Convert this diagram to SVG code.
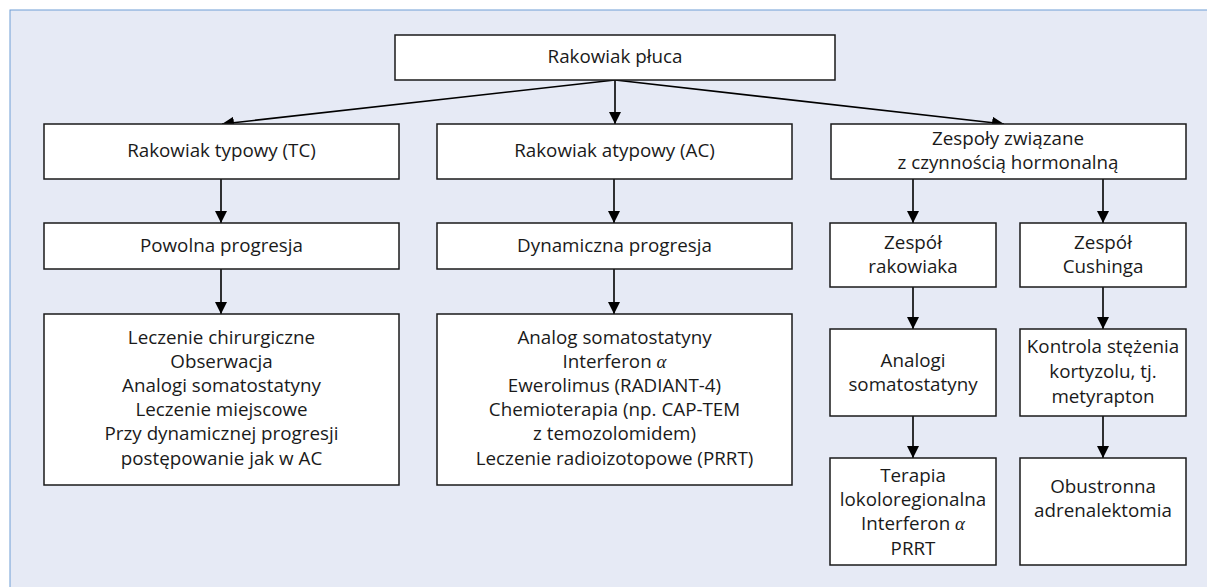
<svg xmlns="http://www.w3.org/2000/svg" width="1207" height="587" viewBox="0 0 1207 587">
<style>
.box{fill:#fff;stroke:#1a1a1a;stroke-width:1.5}
.t{font-family:"Open Sans","Noto Sans",sans-serif;font-size:18.8px;fill:#1a1a1a;text-anchor:middle}
.a{font-family:"Liberation Serif",serif;font-style:italic}
.c{stroke:#000;stroke-width:1.6;fill:none;marker-end:url(#ah)}
</style>
<defs>
<marker id="ah" markerWidth="12" markerHeight="12" viewBox="0 0 12 12" refX="12" refY="6" orient="auto" markerUnits="userSpaceOnUse">
<path d="M0,0 L12,6 L0,12 Z" fill="#000"/>
</marker>
</defs>
<rect x="0" y="0" width="1207" height="587" fill="#fff"/>
<rect x="10" y="10" width="1210" height="600" fill="#E6EAF5" stroke="#6F9DD6" stroke-width="1"/>
<g id="connectors">
<line class="c" x1="615" y1="80" x2="222" y2="124"/>
<line class="c" x1="615" y1="80" x2="615" y2="124"/>
<line class="c" x1="615" y1="80" x2="1004" y2="124"/>
<line class="c" x1="221" y1="179" x2="221" y2="223"/>
<line class="c" x1="614" y1="179" x2="614" y2="223"/>
<line class="c" x1="913" y1="179" x2="913" y2="223"/>
<line class="c" x1="1103" y1="179" x2="1103" y2="223"/>
<line class="c" x1="221" y1="269" x2="221" y2="314"/>
<line class="c" x1="614" y1="269" x2="614" y2="314"/>
<line class="c" x1="913" y1="287" x2="913" y2="329"/>
<line class="c" x1="1103" y1="287" x2="1103" y2="329"/>
<line class="c" x1="913" y1="416" x2="913" y2="458"/>
<line class="c" x1="1103" y1="416" x2="1103" y2="458"/>
</g>
<g id="n-root"><rect class="box" x="395" y="35" width="440" height="45"/><text class="t" x="615" y="63">Rakowiak płuca</text></g>
<g id="n-tc"><rect class="box" x="44" y="124" width="355" height="55"/><text class="t" x="221.5" y="157">Rakowiak typowy (TC)</text></g>
<g id="n-ac"><rect class="box" x="437" y="124" width="355" height="55"/><text class="t" x="614.5" y="157">Rakowiak atypowy (AC)</text></g>
<g id="n-hormon"><rect class="box" x="831" y="124" width="355" height="55"/><text class="t"><tspan x="1008" y="145">Zespoły związane</tspan><tspan x="1008" y="169">z czynnością hormonalną</tspan></text></g>
<g id="n-powolna"><rect class="box" x="44" y="223" width="355" height="46"/><text class="t" x="221.5" y="252">Powolna progresja</text></g>
<g id="n-dynamiczna"><rect class="box" x="437" y="223" width="355" height="46"/><text class="t" x="614.5" y="252">Dynamiczna progresja</text></g>
<g id="n-zrak"><rect class="box" x="830" y="223" width="166" height="64"/><text class="t"><tspan x="913" y="249">Zespół</tspan><tspan x="913" y="273">rakowiaka</tspan></text></g>
<g id="n-zcush"><rect class="box" x="1020" y="223" width="166" height="64"/><text class="t"><tspan x="1103" y="249">Zespół</tspan><tspan x="1103" y="273">Cushinga</tspan></text></g>
<g id="n-tclist"><rect class="box" x="44" y="314" width="355" height="171"/>
<text class="t"><tspan x="221.5" y="344">Leczenie chirurgiczne</tspan><tspan x="221.5" y="368">Obserwacja</tspan><tspan x="221.5" y="392">Analogi somatostatyny</tspan><tspan x="221.5" y="416">Leczenie miejscowe</tspan><tspan x="221.5" y="440">Przy dynamicznej progresji</tspan><tspan x="221.5" y="465">postępowanie jak w AC</tspan></text></g>
<g id="n-aclist"><rect class="box" x="437" y="314" width="355" height="171"/>
<text class="t"><tspan x="614.5" y="344">Analog somatostatyny</tspan><tspan x="614.5" y="368">Interferon <tspan class="a">α</tspan></tspan><tspan x="614.5" y="392">Ewerolimus (RADIANT-4)</tspan><tspan x="614.5" y="416">Chemioterapia (np. CAP-TEM</tspan><tspan x="614.5" y="440">z temozolomidem)</tspan><tspan x="614.5" y="465">Leczenie radioizotopowe (PRRT)</tspan></text></g>
<g id="n-analogi"><rect class="box" x="830" y="329" width="166" height="87"/><text class="t"><tspan x="913" y="367">Analogi</tspan><tspan x="913" y="391">somatostatyny</tspan></text></g>
<g id="n-kontrola"><rect class="box" x="1020" y="329" width="166" height="87"/><text class="t"><tspan x="1103" y="353">Kontrola stężenia</tspan><tspan x="1103" y="378">kortyzolu, tj.</tspan><tspan x="1103" y="403">metyrapton</tspan></text></g>
<g id="n-terapia"><rect class="box" x="830" y="458" width="166" height="107"/><text class="t"><tspan x="913" y="482">Terapia</tspan><tspan x="913" y="506">lokoloregionalna</tspan><tspan x="913" y="530">Interferon <tspan class="a">α</tspan></tspan><tspan x="913" y="555">PRRT</tspan></text></g>
<g id="n-adrenal"><rect class="box" x="1020" y="458" width="166" height="107"/><text class="t"><tspan x="1103" y="493">Obustronna</tspan><tspan x="1103" y="517">adrenalektomia</tspan></text></g>
</svg>
